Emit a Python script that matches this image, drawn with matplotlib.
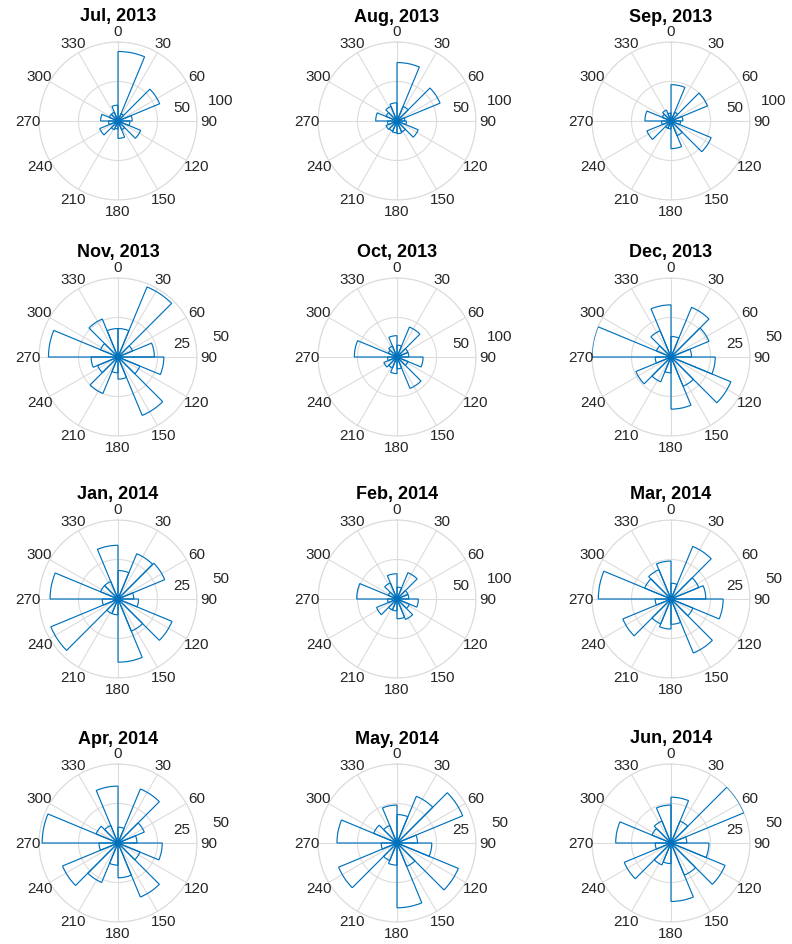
import numpy as np
import matplotlib
matplotlib.use('Agg')
import matplotlib.pyplot as plt
from matplotlib.transforms import offset_copy

plt.rcParams['font.family'] = ['Liberation Sans', 'DejaVu Sans']

# titles in the order they appear (row by row)
titles = ['Jul, 2013', 'Aug, 2013', 'Sep, 2013',
          'Nov, 2013', 'Oct, 2013', 'Dec, 2013',
          'Jan, 2014', 'Feb, 2014', 'Mar, 2014',
          'Apr, 2014', 'May, 2014', 'Jun, 2014']
r_max = [100, 100, 100, 50, 100, 50, 50, 100, 50, 50, 50, 50]

# counts per 22.5 deg direction bin, starting at 0 (north), clockwise
jul_2013 = [88, 10, 57, 18, 15, 31, 12, 22, 10, 12, 25, 12, 22, 12, 12, 20]
aug_2013 = [74, 20, 59, 10, 12, 29, 15, 16, 15, 14, 15, 12, 27, 15, 20, 23]
sep_2013 = [46, 12, 50, 15, 12, 55, 20, 35, 10, 10, 33, 12, 33, 12, 15, 10]
nov_2013 = [18, 48, 10, 23, 29, 15, 40, 14, 10, 25, 14, 17, 44, 12, 26, 18]
oct_2013 = [15, 41, 15, 15, 33, 15, 43, 15, 21, 15, 18, 12, 54, 12, 15, 27]
dec_2013 = [13, 34, 26, 13, 28, 41, 20, 33, 10, 17, 24, 10, 50, 10, 18, 33]
jan_2014 = [18, 31, 32, 10, 13, 37, 22, 40, 10, 10, 46, 10, 43, 12, 12, 34]
feb_2014 = [15, 36, 15, 15, 27, 17, 28, 25, 15, 15, 28, 12, 51, 12, 22, 32]
mar_2014 = [10, 36, 19, 22, 33, 15, 37, 16, 19, 17, 33, 10, 46, 18, 20, 24]
apr_2014 = [10, 37, 18, 12, 28, 15, 37, 22, 14, 27, 38, 12, 48, 15, 12, 36]
may_2014 = [18, 32, 45, 13, 22, 42, 16, 41, 14, 12, 40, 10, 38, 16, 12, 24]
jun_2014 = [29, 15, 50, 10, 24, 37, 22, 37, 13, 15, 32, 10, 35, 13, 15, 24]

all_counts = [jul_2013, aug_2013, sep_2013, nov_2013, oct_2013, dec_2013,
              jan_2014, feb_2014, mar_2014, apr_2014, may_2014, jun_2014]

n_bins = 16
bin_width = 360 / n_bins
bin_edges = np.arange(n_bins) * bin_width
theta_ticks = np.arange(0, 360, 30)

W, H = 792, 945
centers_x = [118, 397, 671]
centers_y = [122, 358, 600, 844]
R = 79
blue = '#0072BD'
grid_col = '#dcdcdc'
text_col = '#262626'

fig = plt.figure(figsize=(W / 100, H / 100), dpi=100)

for i, (title, counts, rmax) in enumerate(zip(titles, all_counts, r_max)):
    cx = centers_x[i % 3]
    cy = centers_y[i // 3]
    ax = fig.add_axes([(cx - R) / W, 1 - (cy + R) / H, 2 * R / W, 2 * R / H],
                      projection='polar')
    ax.set_theta_zero_location('N')
    ax.set_theta_direction(-1)
    ax.set_axisbelow(True)

    ax.bar(np.deg2rad(bin_edges), counts, width=np.deg2rad(bin_width),
           align='edge', fill=False, edgecolor=blue, linewidth=0.85, zorder=3)

    ax.set_ylim(0, rmax)
    rticks = [rmax / 2, rmax]
    ax.set_yticks(rticks)
    ax.set_yticklabels([])
    ax.set_xticks(np.deg2rad(theta_ticks))
    ax.set_xticklabels([])
    ax.grid(color=grid_col, linewidth=0.8)
    ax.spines['polar'].set_color(grid_col)
    ax.spines['polar'].set_linewidth(0.8)

    # angle labels centred just outside the outer ring
    for t in theta_ticks:
        ax.text(np.deg2rad(t), rmax * 1.145, str(t), ha='center', va='center',
                fontsize=11, color=text_col, clip_on=False)

    # radial labels, MATLAB style next to the 80 deg axis
    tr = offset_copy(ax.transData, fig=fig, x=25, y=7.5, units='dots')
    for r in rticks:
        ax.text(np.deg2rad(80), r, str(int(r)), transform=tr, ha='center',
                va='center', fontsize=11, color=text_col, clip_on=False)

    fig.text(cx / W, 1 - (cy - 105) / H, title, ha='center', va='center',
             fontweight='bold', fontsize=13)

fig.savefig('out.png', dpi=100, facecolor='white')
